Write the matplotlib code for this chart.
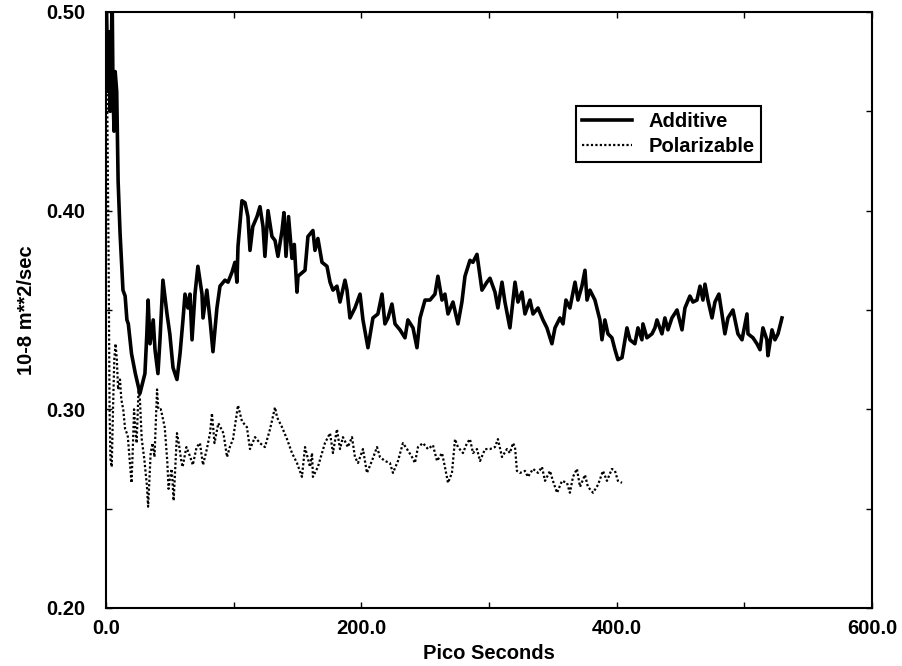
import matplotlib
matplotlib.use("Agg")
import matplotlib.pyplot as plt
from matplotlib.ticker import MultipleLocator, FormatStrFormatter

plt.rcParams["font.family"] = ["Liberation Sans", "DejaVu Sans"]
plt.rcParams["font.weight"] = "bold"
plt.rcParams["axes.labelweight"] = "bold"

# Diffusion coefficient vs simulation time (10-8 m**2/sec)
additive_t = [
    0.5, 1.5, 2.5, 3.3, 4.2, 4.8, 5.5, 6.3, 7.2, 8.4, 9.5, 11.0, 13.3, 15.0,
    16.4, 17.5, 20.0, 23.0, 26.6, 30.5, 32.0, 33.0, 34.5, 37.0, 38.4, 40.7,
    42.3, 44.6, 47.8, 50.0, 52.5, 55.6, 58.0, 60.3, 61.9, 64.2, 65.8, 67.4,
    69.7, 72.0, 75.2, 76.0, 79.0, 81.5, 83.8, 86.9, 89.3, 93.2, 95.6, 98.7,
    101.0, 102.6, 103.4, 106.5, 108.9, 111.2, 112.8, 115.0, 118.3, 120.6,
    123.0, 124.5, 126.9, 130.0, 132.4, 134.7, 137.9, 139.4, 141.0, 143.0,
    145.7, 147.5, 149.6, 150.4, 155.9, 158.2, 162.1, 163.7, 166.0, 169.2,
    173.1, 175.5, 177.8, 180.9, 183.3, 187.2, 188.8, 191.1, 195.0, 199.0,
    201.3, 205.2, 209.1, 213.0, 216.2, 218.5, 220.9, 224.0, 226.4, 230.3,
    234.2, 236.5, 240.5, 243.6, 246.0, 249.9, 253.8, 257.7, 260.0, 263.2,
    265.5, 267.9, 271.8, 275.7, 278.8, 281.2, 285.1, 287.4, 290.6, 294.5,
    298.4, 300.8, 304.7, 307.0, 310.2, 312.5, 316.4, 320.4, 322.7, 325.8,
    328.2, 332.1, 334.5, 338.4, 342.3, 345.4, 349.3, 351.7, 355.6, 358.0,
    360.3, 363.4, 367.4, 369.7, 372.8, 375.2, 376.8, 379.1, 383.0, 386.9,
    388.5, 390.8, 393.2, 396.3, 398.7, 401.0, 404.2, 406.5, 408.1, 410.4,
    414.3, 416.7, 419.8, 420.6, 423.7, 427.7, 430.0, 431.6, 435.5, 437.8,
    440.2, 443.3, 447.3, 451.2, 453.5, 457.4, 459.8, 462.9, 465.3, 467.6,
    469.2, 471.5, 474.7, 477.0, 480.1, 482.5, 484.8, 487.2, 491.1, 495.0,
    498.2, 502.1, 502.9, 506.8, 509.9, 512.3, 514.6, 517.7, 518.5, 521.7,
    524.0, 526.4, 529.5,
]
additive_d = [
    0.500, 0.460, 0.490, 0.450, 0.480, 0.510, 0.460, 0.440, 0.470, 0.460,
    0.415, 0.389, 0.360, 0.357, 0.345, 0.343, 0.328, 0.318, 0.308, 0.318,
    0.338, 0.355, 0.333, 0.345, 0.330, 0.318, 0.335, 0.365, 0.348, 0.338,
    0.321, 0.315, 0.328, 0.345, 0.358, 0.351, 0.358, 0.335, 0.358, 0.372,
    0.358, 0.346, 0.360, 0.345, 0.329, 0.351, 0.362, 0.365, 0.364, 0.369,
    0.374, 0.364, 0.382, 0.405, 0.404, 0.397, 0.380, 0.392, 0.397, 0.402,
    0.392, 0.377, 0.400, 0.387, 0.385, 0.377, 0.390, 0.399, 0.377, 0.397,
    0.376, 0.383, 0.359, 0.367, 0.370, 0.387, 0.390, 0.380, 0.386, 0.374,
    0.372, 0.364, 0.360, 0.362, 0.354, 0.365, 0.360, 0.346, 0.351, 0.358,
    0.345, 0.331, 0.346, 0.348, 0.358, 0.343, 0.346, 0.353, 0.343, 0.340,
    0.336, 0.345, 0.341, 0.331, 0.346, 0.355, 0.355, 0.358, 0.367, 0.355,
    0.358, 0.348, 0.354, 0.343, 0.354, 0.367, 0.375, 0.374, 0.378, 0.360,
    0.364, 0.366, 0.359, 0.351, 0.364, 0.354, 0.341, 0.364, 0.354, 0.359,
    0.348, 0.355, 0.348, 0.351, 0.345, 0.341, 0.333, 0.341, 0.346, 0.343,
    0.355, 0.351, 0.364, 0.355, 0.362, 0.370, 0.355, 0.360, 0.355, 0.345,
    0.335, 0.345, 0.338, 0.336, 0.330, 0.325, 0.326, 0.335, 0.341, 0.335,
    0.333, 0.341, 0.335, 0.343, 0.336, 0.338, 0.341, 0.345, 0.338, 0.346,
    0.340, 0.346, 0.350, 0.340, 0.351, 0.357, 0.354, 0.355, 0.362, 0.355,
    0.363, 0.355, 0.346, 0.354, 0.358, 0.348, 0.338, 0.346, 0.350, 0.338,
    0.335, 0.348, 0.338, 0.336, 0.333, 0.330, 0.341, 0.335, 0.327, 0.340,
    0.335, 0.338, 0.346,
]

polar_t = [
    0.5, 1.2, 2.0, 2.8, 3.5, 4.5, 5.5, 6.5, 7.5, 8.5, 9.5, 11.0, 12.0, 13.5,
    15.0, 17.0, 18.5, 20.0, 21.0, 22.0, 23.0, 24.0, 25.5, 26.5, 28.0, 30.0,
    32.0, 33.0, 34.0, 35.0, 36.5, 38.0, 40.0, 41.0, 43.0, 46.0, 48.0, 49.0,
    50.0, 51.5, 53.0, 55.6, 57.0, 59.0, 60.0, 63.0, 66.0, 68.0, 71.0, 73.6,
    76.0, 79.0, 81.5, 83.0, 85.0, 88.0, 92.0, 94.8, 97.0, 99.5, 103.4, 106.5,
    110.4, 112.8, 116.7, 120.6, 124.5, 128.5, 132.4, 134.0, 137.9, 141.8,
    145.7, 149.6, 153.5, 155.9, 159.8, 161.4, 162.1, 166.0, 171.5, 175.5,
    177.8, 180.9, 183.3, 185.6, 189.5, 192.7, 195.0, 197.4, 201.3, 204.4,
    208.3, 212.3, 214.6, 218.5, 222.4, 224.8, 228.7, 232.6, 235.8, 239.7,
    242.0, 244.4, 248.3, 252.2, 256.1, 259.3, 263.2, 265.5, 267.9, 271.0,
    273.4, 275.7, 279.6, 282.8, 285.1, 287.5, 290.6, 293.0, 296.9, 300.8,
    304.7, 307.0, 310.2, 314.1, 316.4, 318.8, 320.4, 321.9, 324.3, 328.2,
    330.5, 334.5, 338.4, 341.5, 343.9, 347.8, 350.1, 353.3, 357.2, 361.1,
    363.4, 365.8, 368.9, 371.3, 375.2, 377.5, 381.5, 385.4, 389.3, 392.4,
    396.3, 398.7, 401.0, 404.2,
]
polar_d = [
    0.490, 0.440, 0.380, 0.300, 0.275, 0.271, 0.300, 0.325, 0.333, 0.325,
    0.310, 0.315, 0.305, 0.300, 0.290, 0.287, 0.275, 0.263, 0.280, 0.300,
    0.290, 0.283, 0.310, 0.306, 0.285, 0.275, 0.262, 0.251, 0.265, 0.278,
    0.283, 0.276, 0.310, 0.300, 0.300, 0.291, 0.274, 0.260, 0.265, 0.270,
    0.254, 0.288, 0.283, 0.274, 0.271, 0.281, 0.276, 0.272, 0.281, 0.283,
    0.272, 0.280, 0.288, 0.298, 0.283, 0.293, 0.288, 0.276, 0.281, 0.285,
    0.302, 0.294, 0.291, 0.280, 0.286, 0.283, 0.281, 0.290, 0.301, 0.296,
    0.291, 0.285, 0.278, 0.273, 0.266, 0.281, 0.271, 0.278, 0.266, 0.271,
    0.283, 0.288, 0.278, 0.290, 0.280, 0.286, 0.281, 0.286, 0.276, 0.273,
    0.280, 0.268, 0.274, 0.281, 0.276, 0.274, 0.273, 0.268, 0.274, 0.283,
    0.280, 0.276, 0.273, 0.281, 0.283, 0.280, 0.282, 0.274, 0.278, 0.271,
    0.263, 0.268, 0.285, 0.281, 0.278, 0.283, 0.285, 0.278, 0.280, 0.274,
    0.280, 0.280, 0.281, 0.285, 0.276, 0.280, 0.278, 0.283, 0.281, 0.269,
    0.268, 0.269, 0.266, 0.270, 0.268, 0.271, 0.264, 0.269, 0.264, 0.258,
    0.264, 0.263, 0.258, 0.266, 0.270, 0.261, 0.267, 0.261, 0.258, 0.262,
    0.269, 0.264, 0.270, 0.269, 0.264, 0.263,
]

fig = plt.figure(figsize=(9.02, 6.66), dpi=100)
ax = fig.add_axes([0.1175, 0.0871, 0.8492, 0.8949])

ax.plot(additive_t, additive_d, color="black", lw=2.6, label="Additive")
ax.plot(polar_t, polar_d, color="black", lw=1.6, linestyle=(0, (1, 1)),
        label="Polarizable")

ax.set_xlim(0, 600)
ax.set_ylim(0.20, 0.50)
ax.xaxis.set_major_locator(MultipleLocator(200))
ax.xaxis.set_minor_locator(MultipleLocator(100))
ax.yaxis.set_major_locator(MultipleLocator(0.1))
ax.yaxis.set_minor_locator(MultipleLocator(0.05))
ax.xaxis.set_major_formatter(FormatStrFormatter("%.1f"))
ax.yaxis.set_major_formatter(FormatStrFormatter("%.2f"))

ax.tick_params(which="both", direction="in", top=True, right=True,
               length=4, width=1.0, labelsize=14.5)
ax.tick_params(axis="x", pad=8)
ax.tick_params(axis="y", pad=15)
for sp in ax.spines.values():
    sp.set_linewidth(1.5)

ax.set_xlabel("Pico Seconds", fontsize=14.5, labelpad=4)
ax.set_ylabel("10-8 m**2/sec", fontsize=14.5, labelpad=7)

leg = ax.legend(loc="lower left", bbox_to_anchor=(0.6136, 0.748),
                borderaxespad=0, fontsize=14.5, frameon=True, fancybox=False,
                handlelength=2.5, handletextpad=0.8, borderpad=0.3,
                labelspacing=0.3, edgecolor="black")
leg.get_frame().set_linewidth(1.5)
leg.get_frame().set_alpha(1)

fig.savefig("out.png", dpi=100)
